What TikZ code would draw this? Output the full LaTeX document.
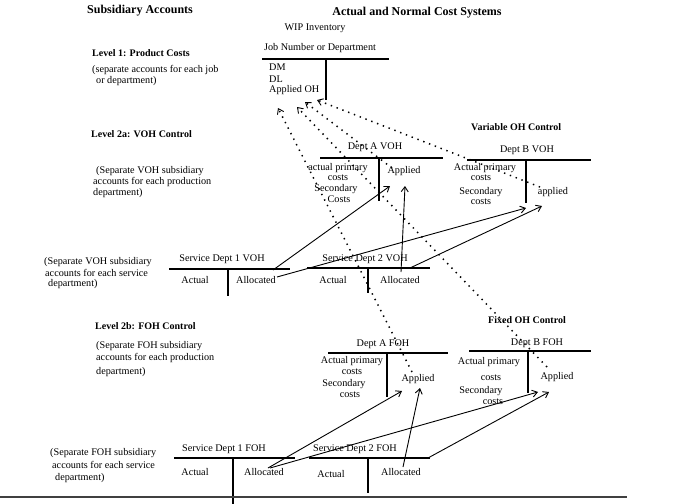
\documentclass[tikz,border=0pt]{standalone}
\usepackage{fontspec}
\setmainfont{Liberation Serif}
\usetikzlibrary{arrows.meta}
\tikzset{
  txt/.style={inner sep=0pt, font=\fontsize{10.2}{12}\selectfont},
  hdr/.style={inner sep=0pt, font=\fontsize{10}{12}\selectfont\bfseries},
  ttl/.style={inner sep=0pt, font=\fontsize{12}{14}\selectfont\bfseries},
  tline/.style={line width=1.6pt},
  solidarr/.style={line width=0.9pt, -{Straight Barb[length=5pt,width=7pt,line width=0.9pt]}},
  dotarr/.style={line width=1.5pt, dash pattern=on 1.4pt off 4.8pt, -{Straight Barb[length=5pt,width=7pt,line width=0.9pt]}},
  baseline/.style={line width=1.8pt, draw=black!75}
}
\begin{document}
\begin{tikzpicture}[x=1pt,y=-1pt]
\useasboundingbox (0,0) rectangle (689,504);

% Titles
\node[ttl, anchor=west] (subsid) at (87,11) {Subsidiary Accounts};
\node[ttl] (title) at (417,13) {Actual and Normal Cost Systems};
\node[txt] (wip) at (315,28) {WIP Inventory};

% Level 1
\node[hdr, anchor=west] (lvl1) at (92,53) {Level 1: Product Costs};
\node[txt, anchor=west] (lvl1a) at (92,70) {(separate accounts for each job};
\node[txt, anchor=west] (lvl1b) at (96,81) {or department)};
\node[txt] (jobnum) at (320,48) {Job Number or Department};
\draw[tline] (262,59) -- (389,59);
\draw[tline] (326,59) -- (326,100);
\node[txt, anchor=west] (dm) at (269,67) {DM};
\node[txt, anchor=west] (dl) at (269,79) {DL};
\node[txt, anchor=west] (aoh) at (269,90) {Applied OH};

% Level 2a
\node[hdr, anchor=west] (lvl2a) at (91,134) {Level 2a: VOH Control};
\node[txt, anchor=west] (lvl2aa) at (96,171) {(Separate VOH subsidiary};
\node[txt, anchor=west] (lvl2ab) at (93,182) {accounts for each production};
\node[txt, anchor=west] (lvl2ac) at (93,193) {department)};
\node[hdr, anchor=west] (varoh) at (471,127) {Variable OH Control};

% Dept A VOH
\node[txt] (davoh) at (375,147) {Dept A VOH};
\draw[tline] (320,158) -- (443,158);
\draw[tline] (379,158) -- (379,201);
\node[txt] (davoh1) at (338,168) {actual primary};
\node[txt] (davoh2) at (338,178) {costs};
\node[txt] (davoh3) at (336,189) {Secondary};
\node[txt] (davoh4) at (339,199) {Costs};
\node[txt] (davohap) at (404,171) {Applied};

% Dept B VOH
\node[txt] (dbvoh) at (527,150) {Dept B VOH};
\draw[tline] (467,160) -- (591,160);
\draw[tline] (526,160) -- (526,203);
\node[txt] (dbvoh1) at (485,168) {Actual primary};
\node[txt] (dbvoh2) at (481,178) {costs};
\node[txt] (dbvoh3) at (481,192) {Secondary};
\node[txt] (dbvoh4) at (481,202) {costs};
\node[txt] (dbvohap) at (553,192) {applied};

% Service depts VOH
\node[txt, anchor=west] (svoha) at (44,262) {(Separate VOH subsidiary};
\node[txt, anchor=west] (svohb) at (45,273) {accounts for each service};
\node[txt, anchor=west] (svohc) at (48,284) {department)};
\node[txt] (s1voh) at (222,259) {Service Dept 1 VOH};
\draw[tline] (169,269) -- (290,269);
\draw[tline] (228,269) -- (228,296);
\node[txt] (s1voha) at (195,280) {Actual};
\node[txt] (s1vohal) at (256,280) {Allocated};
\node[txt] (s2voh) at (365,259) {Service Dept 2 VOH};
\draw[tline] (307,268) -- (430,268);
\draw[tline] (368,268) -- (368,293);
\node[txt] (s2voha) at (333,280) {Actual};
\node[txt] (s2vohal) at (400,280) {Allocated};

% Level 2b
\node[hdr, anchor=west] (lvl2b) at (95,326) {Level 2b: FOH Control};
\node[txt, anchor=west] (lvl2ba) at (96,346) {(Separate FOH subsidiary};
\node[txt, anchor=west] (lvl2bb) at (96,358) {accounts for each production};
\node[txt, anchor=west] (lvl2bc) at (96,372) {department)};
\node[hdr, anchor=west] (fixoh) at (488,320) {Fixed OH Control};

% Dept A FOH
\node[txt] (dafoh) at (383,344) {Dept A FOH};
\draw[tline] (328,353) -- (448,353);
\draw[tline] (387,353) -- (387,397);
\node[txt] (dafoh1) at (352,361) {Actual primary};
\node[txt] (dafoh2) at (352,372) {costs};
\node[txt] (dafoh3) at (344,384) {Secondary};
\node[txt] (dafoh4) at (350,395) {costs};
\node[txt] (dafohap) at (418,379) {Applied};

% Dept B FOH
\node[txt] (dbfoh) at (537,343) {Dept B FOH};
\draw[tline] (469,351) -- (591,351);
\draw[tline] (528,351) -- (528,393);
\node[txt] (dbfoh1) at (489,362) {Actual primary};
\node[txt] (dbfoh2) at (491,378) {costs};
\node[txt] (dbfoh3) at (481,391) {Secondary};
\node[txt] (dbfoh4) at (493,402) {costs};
\node[txt] (dbfohap) at (557,377) {Applied};

% Service depts FOH
\node[txt, anchor=west] (sfoha) at (50,453) {(Separate FOH subsidiary};
\node[txt, anchor=west] (sfohb) at (52,465) {accounts for each service};
\node[txt, anchor=west] (sfohc) at (55,478) {department)};
\node[txt] (s1foh) at (224,449) {Service Dept 1 FOH};
\draw[tline] (174,458) -- (295,458);
\draw[tline] (233,458) -- (233,504);
\node[txt] (s1foha) at (195,472) {Actual};
\node[txt] (s1fohal) at (264,472) {Allocated};
\node[txt] (s2foh) at (355,449) {Service Dept 2 FOH};
\draw[tline] (309,458) -- (430,458);
\draw[tline] (368,458) -- (368,493);
\node[txt] (s2foha) at (331,474) {Actual};
\node[txt] (s2fohal) at (401,472) {Allocated};

% bottom rule
\draw[baseline] (0,497) -- (627,497);

% arrow end points
\coordinate (wipA) at (278,108);
\coordinate (wipB) at (297,107);
\coordinate (wipC) at (305,102);
\coordinate (wipD) at (317,100);
\coordinate (daVohIn1) at (390,186);
\coordinate (daVohIn2) at (405,186);
\coordinate (dbVohIn1) at (526,208);
\coordinate (dbVohIn2) at (542,206);
\coordinate (s1VohOut1) at (273,270);
\coordinate (s1VohOut2) at (277,277);
\coordinate (s2VohOut1) at (401,272);
\coordinate (s2VohOut2) at (410,268);
\coordinate (daFohIn1) at (402,391);
\coordinate (daFohIn2) at (420,388);
\coordinate (dbFohIn1) at (538,392);
\coordinate (dbFohIn2) at (549,392);
\coordinate (s1FohOut1) at (268,468);
\coordinate (s1FohOut2) at (270,468);
\coordinate (s2FohOut1) at (403,467);
\coordinate (s2FohOut2) at (428,458);
\coordinate (daFohOut) at (412,372);
\coordinate (dbFohOut) at (547,367);
\coordinate (daVohOut) at (392,168);
\coordinate (dbVohOut) at (540,187);

% solid allocation arrows
\draw[solidarr] (s1VohOut1) -- (daVohIn1);
\draw[solidarr] (s1VohOut2) -- (dbVohIn1);
\draw[solidarr] (s2VohOut1) -- (daVohIn2);
\draw[solidarr] (s2VohOut2) -- (dbVohIn2);
\draw[solidarr] (s1FohOut1) -- (daFohIn1);
\draw[solidarr] (s1FohOut2) -- (dbFohIn1);
\draw[solidarr] (s2FohOut1) -- (daFohIn2);
\draw[solidarr] (s2FohOut2) -- (dbFohIn2);

% dotted applied arrows
\draw[dotarr] (daFohOut) -- (wipA);
\draw[dotarr] (dbFohOut) -- (wipB);
\draw[dotarr] (daVohOut) -- (wipC);
\draw[dotarr] (dbVohOut) -- (wipD);
\end{tikzpicture}
\end{document}
